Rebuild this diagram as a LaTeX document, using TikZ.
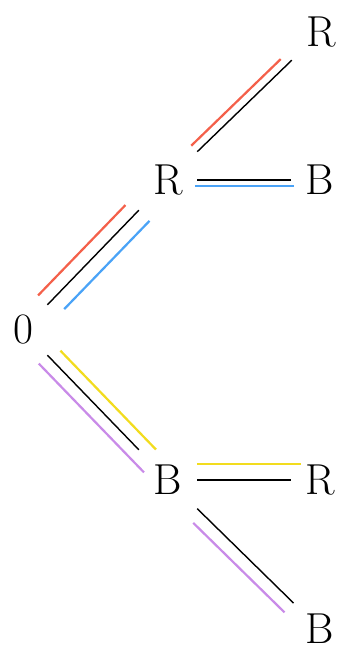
\documentclass[tikz,border=0pt]{standalone}
\usepackage{tikz}
\usepackage{xcolor}
\usetikzlibrary{positioning}
\definecolor{pathRed}{RGB}{244,96,74}
\definecolor{pathBlue}{RGB}{74,163,247}
\definecolor{pathYellow}{RGB}{242,220,30}
\definecolor{pathPurple}{RGB}{201,139,232}

\begin{document}
\begin{tikzpicture}[x=0.03cm, y=-0.03cm,
    state/.style={inner sep=0pt, minimum width=1.74cm, minimum height=1.8cm, font=\fontsize{37}{44}\selectfont},
    branch/.style={line width=1.2pt},
    hl/.style={line width=1.9pt}]
    \useasboundingbox (0,0) rectangle (340,648);
    % tree
    \node[state, minimum width=1.45cm] (root) at (23,330) {0};
    \node[state] (r1) at (168,180) {R};
    \node[state] (b1) at (320,180) {B};
    \node[state] (r2) at (321,32) {R};
    \node[state] (b2) at (168,480) {B};
    \node[state] (r3) at (320,480) {R};
    \node[state, minimum height=1.1cm] (b3) at (320,629) {B};
    \draw[branch] (root) -- (r1);
    \draw[branch] (r1) -- (r2);
    \draw[branch] (r1) -- (b1);
    \draw[branch] (root) -- (b2);
    \draw[branch] (b2) -- (r3);
    \draw[branch, shorten >=9pt] (b2) -- (b3);
    % coloured paths
    \draw[hl, pathRed, shorten >=5pt, transform canvas={shift={(-0.28cm,0.28cm)}}] (root) -- (r1);
    \draw[hl, pathRed, shorten >=6pt, transform canvas={shift={(-0.18cm,0.18cm)}}] (r1) -- (r2);
    \draw[hl, pathBlue, shorten <=7.5pt, transform canvas={shift={(0.32cm,-0.32cm)}}] (root) -- (r1);
    \draw[hl, pathBlue, shorten <=-2pt, shorten >=-3pt, transform canvas={shift={(0cm,-0.18cm)}}] (r1) -- (b1);
    \draw[hl, pathYellow, shorten <=5pt, shorten >=-10pt, transform canvas={shift={(0.27cm,0.26cm)}}] (root) -- (b2);
    \draw[hl, pathYellow, shorten >=-8.5pt, transform canvas={shift={(0cm,0.48cm)}}] (b2) -- (r3);
    \draw[hl, pathPurple, shorten >=-17pt, transform canvas={shift={(-0.26cm,-0.25cm)}}] (root) -- (b2);
    \draw[hl, pathPurple, shorten <=6pt, shorten >=9pt, transform canvas={shift={(-0.27cm,-0.28cm)}}] (b2) -- (b3);
\end{tikzpicture}
\end{document}
